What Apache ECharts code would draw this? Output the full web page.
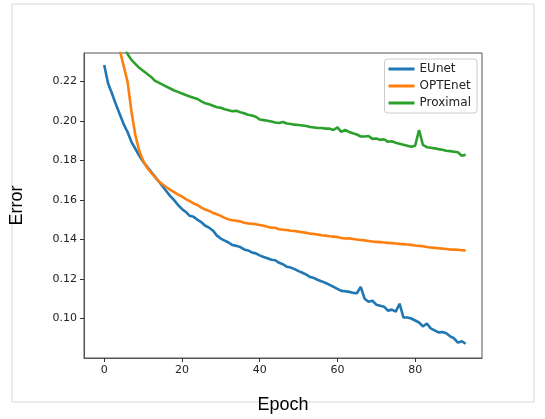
<!DOCTYPE html>
<html><head><meta charset="utf-8">
<script src="https://cdn.jsdelivr.net/npm/echarts@6/dist/echarts.min.js"></script>
<style>html,body{margin:0;padding:0;background:#fff}#c{width:545px;height:419px}</style>
</head><body><div id="c"></div>
<script>
const epochs = Array.from({length: 94}, (_, i) => i);
const eunet = [.2284,.2190,.2140,.2085,.2035,.1985,.1945,.1895,.1860,.1825,.1795,.1770,.1745,.1720,.1695,.1670,.1645,.1620,.1600,.1575,
.1555,.1540,.1520,.1515,.1500,.1488,.1470,.1460,.1445,.1420,
.1405,.1395,.1385,.1372,.1368,.1362,.1350,.1345,.1335,.1330,
.1320,.1312,.1305,.1298,.1295,.1282,.1275,.1262,.1258,.1250,
.1240,.1232,.1222,.1210,.1205,.1195,.1188,.1180,.1170,.1160,
.1150,.1140,.1138,.1135,.1130,.1128,.1160,.1100,.1085,.1090,
.1070,.1065,.1060,.1040,.1045,.1035,.1075,.1005,.1005,.1000,
.0990,.0980,.0960,.0975,.0950,.0940,.0930,.0932,.0925,.0910,.0900,.0878,.0885,.0872];
const optenet = [.300,.280,.262,.248,.236,.228,.220,.205,.193,.185,.180,.1765,.1740,.1718,.1695,.1680,.1665,.1652,.1640,.1628,
.1618,.1605,.1595,.1583,.1575,.1562,.1552,.1545,.1535,.1528,
.1520,.1510,.1502,.1498,.1495,.1492,.1485,.1482,.1480,.1478,
.1474,.1470,.1465,.1460,.1460,.1452,.1450,.1448,.1445,.1443,
.1440,.1437,.1434,.1430,.1428,.1425,.1422,.1420,.1417,.1415,
.1413,.1408,.1405,.1406,.1403,.1400,.1398,.1396,.1393,.1390,
.1388,.1387,.1385,.1383,.1382,.1380,.1378,.1377,.1375,.1373,
.1370,.1368,.1366,.1362,.1360,.1358,.1356,.1354,.1352,.1350,.1349,.1348,.1346,.1345];
const proximal = [.270,.262,.255,.248,.243,.238,.234,.231,.229,.227,.2255,.224,.2225,.2205,.2195,.2185,.2175,.2165,.2155,.2148,
.2140,.2132,.2125,.2118,.2112,.2100,.2090,.2085,.2078,.2070,
.2068,.2060,.2055,.2050,.2052,.2045,.2040,.2032,.2028,.2022,
.2008,.2005,.2002,.1998,.1993,.1990,.1995,.1988,.1985,.1982,
.1980,.1978,.1975,.1970,.1968,.1965,.1965,.1962,.1962,.1955,
.1968,.1945,.1955,.1945,.1938,.1932,.1922,.1922,.1925,.1910,
.1912,.1905,.1908,.1895,.1898,.1890,.1885,.1880,.1875,.1870,
.1875,.1955,.1880,.1868,.1865,.1862,.1858,.1855,.1850,.1848,.1845,.1842,.1825,.1830];
const xTicks = [0, 20, 40, 60, 80];
const yTicks = [0.10, 0.12, 0.14, 0.16, 0.18, 0.20, 0.22];
const names = ['EUnet', 'OPTEnet', 'Proximal'];
const colors = ['#1f77b4', '#ff7f0e', '#2ca02c'];
const seriesData = [eunet, optenet, proximal];

const font = 'DejaVu Sans';
const chart = echarts.init(document.getElementById('c'), null, {renderer: 'canvas'});
chart.setOption({
  animation: false,
  backgroundColor: '#fff',
  textStyle: {fontFamily: font},
  grid: {left: 77, right: 63, top: 53, bottom: 60, show: true, borderColor: '#555', borderWidth: 1},
  graphic: [{type: 'rect', shape: {x: 12, y: 4, width: 522, height: 398}, style: {fill: 'none', stroke: '#d8d8d8', lineWidth: 1}, z: -1}],
  legend: {
    right: 68, top: 59, orient: 'vertical', itemWidth: 26, itemHeight: 3, itemGap: 5,
    backgroundColor: '#fff', borderColor: '#ccc', borderWidth: 1, borderRadius: 3, padding: [4, 6, 4, 4],
    textStyle: {fontFamily: font, fontSize: 12, color: '#222'},
    icon: 'rect', data: names
  },
  xAxis: {
    type: 'value', min: -5.2, max: 97.2,
    name: 'Epoch', nameLocation: 'middle', nameGap: 38,
    nameTextStyle: {fontFamily: 'Liberation Sans', fontSize: 18, color: '#000'},
    axisLine: {onZero: false, lineStyle: {color: '#555'}},
    axisTick: {customValues: xTicks, length: 4, lineStyle: {color: '#333'}},
    axisLabel: {customValues: xTicks, fontSize: 11, color: '#222', margin: 7},
    splitLine: {show: false}
  },
  yAxis: {
    type: 'value', min: 0.08, max: 0.2345,
    name: 'Error', nameLocation: 'middle', nameGap: 58,
    nameTextStyle: {fontFamily: 'Liberation Sans', fontSize: 18, color: '#000'},
    axisLine: {show: true, onZero: false, lineStyle: {color: '#555'}},
    axisTick: {customValues: yTicks, length: 4, lineStyle: {color: '#333'}},
    axisLabel: {customValues: yTicks, fontSize: 11, color: '#222', margin: 7, formatter: v => v.toFixed(2)},
    splitLine: {show: false}
  },
  series: names.map((n, i) => ({
    name: n, type: 'line', showSymbol: false, symbol: 'none', clip: true,
    data: epochs.map((e, j) => [e, seriesData[i][j]]),
    lineStyle: {color: colors[i], width: 2.6}, itemStyle: {color: colors[i]}
  }))
});
</script></body></html>
